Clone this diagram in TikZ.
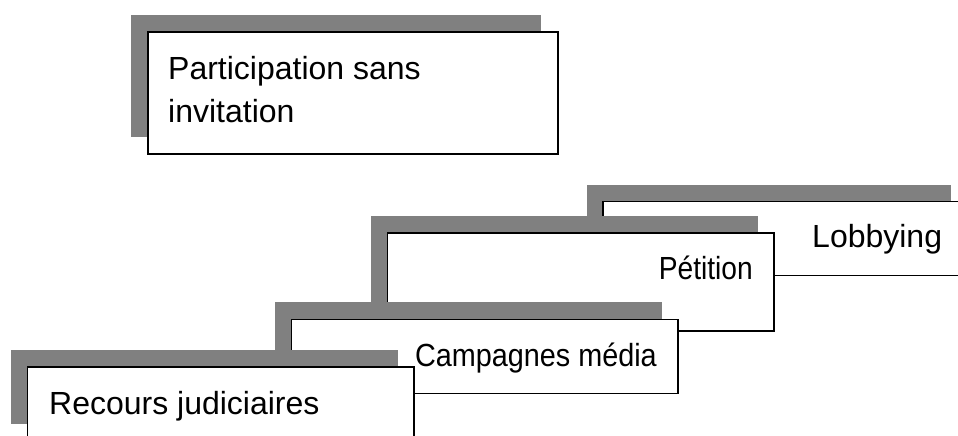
\documentclass[tikz,border=0pt]{standalone}
\usepackage{fontspec}
\setmainfont{Liberation Sans}
\definecolor{shadowgray}{HTML}{808080}
\begin{document}
\begin{tikzpicture}[x=1pt,y=-1pt,
  boxnode/.style={draw=black, line width=1.6pt, fill=white, inner sep=0pt, anchor=north west},
  shadownode/.style={fill=shadowgray, draw=none, inner sep=0pt, anchor=north west},
  lbl/.style={inner sep=0pt, font=\fontsize{32}{38}\selectfont}]
\useasboundingbox (0,0) rectangle (958,436);
\clip (0,0) rectangle (958,436);
% Participation sans invitation
\node[shadownode, minimum width=410pt, minimum height=122pt] (s1) at (131,14.5) {};
\node[boxnode, minimum width=410pt, minimum height=122pt] (b1) at (147.3,31) {};
\node[lbl, anchor=base west] (t1a) at (168,79) {Participation sans};
\node[lbl, anchor=base west] (t1b) at (168,122) {invitation};
% Lobbying
\node[shadownode, minimum width=364pt, minimum height=74pt] (s2) at (586.5,184.5) {};
\node[boxnode, minimum width=364pt, minimum height=74pt] (b2) at (602.3,200.5) {};
\node[lbl, anchor=base west] (t2) at (812,247) {Lobbying};
% Petition
\node[shadownode, minimum width=386.6pt, minimum height=98pt] (s3) at (371,216) {};
\node[boxnode, minimum width=386.6pt, minimum height=98pt] (b3) at (386.7,232) {};
\node[lbl, anchor=base east] (t3) at (753,279) {\scalebox{0.88}[1]{Pétition}};
% Campagnes media
\node[shadownode, minimum width=386.6pt, minimum height=74pt] (s4) at (275,302) {};
\node[boxnode, minimum width=386.6pt, minimum height=74pt] (b4) at (290.7,318.7) {};
\node[lbl, anchor=base east] (t4) at (657,366) {\scalebox{0.9}[1]{Campagnes média}};
% Recours judiciaires
\node[shadownode, minimum width=386.6pt, minimum height=74pt] (s5) at (11,350) {};
\node[boxnode, minimum width=386.6pt, minimum height=74pt] (b5) at (26.7,366) {};
\node[lbl, anchor=base west] (t5) at (49,414) {Recours judiciaires};
\end{tikzpicture}
\end{document}
